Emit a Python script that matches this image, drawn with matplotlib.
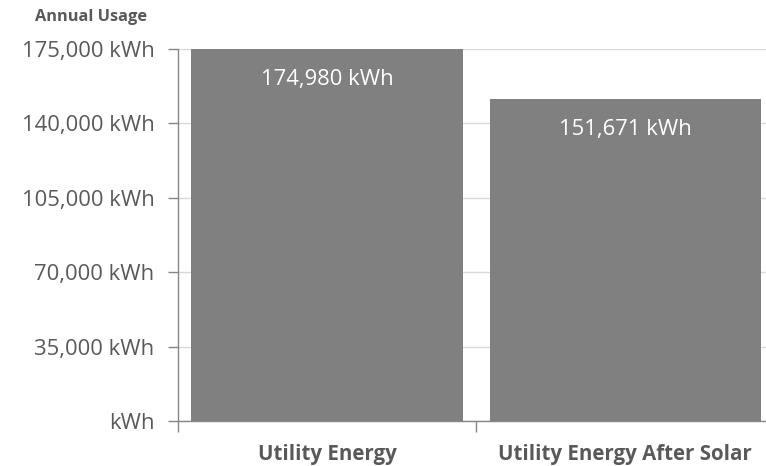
import matplotlib
matplotlib.use("Agg")
import matplotlib.pyplot as plt
from matplotlib.ticker import FixedLocator

categories = ["Utility Energy", "Utility Energy After Solar"]
values = [174980, 151671]
yticks = [0, 35000, 70000, 105000, 140000, 175000]
ytick_labels = ["kWh", "35,000 kWh", "70,000 kWh", "105,000 kWh", "140,000 kWh", "175,000 kWh"]

plt.rcParams['font.family'] = ['Open Sans', 'DejaVu Sans']

W, H = 766, 466
fig = plt.figure(figsize=(W / 100, H / 100), dpi=100)
left, right, bottom, top = 178, 774.5, 421, 49
ax = fig.add_axes([left / W, (H - bottom) / H, (right - left) / W, (bottom - top) / H])

text_gray = "#595959"
axis_gray = "#868686"
grid_gray = "#d9d9d9"
bar_gray = "#808080"

x = list(range(len(categories)))
bars = ax.bar(x, values, width=0.91, color=bar_gray, zorder=2)

ax.set_xlim(-0.5, 1.5)
ax.set_ylim(0, 175000)
ax.set_yticks(yticks)
ax.set_yticklabels(ytick_labels)
ax.yaxis.grid(True, color=grid_gray, linewidth=1, zorder=0)
ax.set_axisbelow(True)

ax.set_xticks(x)
ax.set_xticklabels(categories, fontweight="bold")
ax.xaxis.set_minor_locator(FixedLocator([-0.5, 0.5, 1.5]))
ax.tick_params(axis="x", which="major", length=0, pad=16.5, labelsize=14.8, labelcolor=text_gray)
ax.tick_params(axis="x", which="minor", length=8, color=axis_gray, width=1)
ax.tick_params(axis="y", length=7, color=axis_gray, width=1, labelsize=15.8, labelcolor=text_gray, pad=10)

for s in ["top", "right"]:
    ax.spines[s].set_visible(False)
for s in ["left", "bottom"]:
    ax.spines[s].set_color(axis_gray)
    ax.spines[s].set_linewidth(1)

for b, v in zip(bars, values):
    ax.annotate(f"{v:,} kWh", xy=(b.get_x() + b.get_width() / 2, v), xytext=(0, -22),
                textcoords="offset points", ha="center", va="center",
                color="white", fontsize=15.8)

fig.text(35 / W, 1 - 17 / H, "Annual Usage", ha="left", va="center",
         fontsize=11.8, fontweight="bold", color=text_gray)

fig.savefig("out.png", dpi=100)
